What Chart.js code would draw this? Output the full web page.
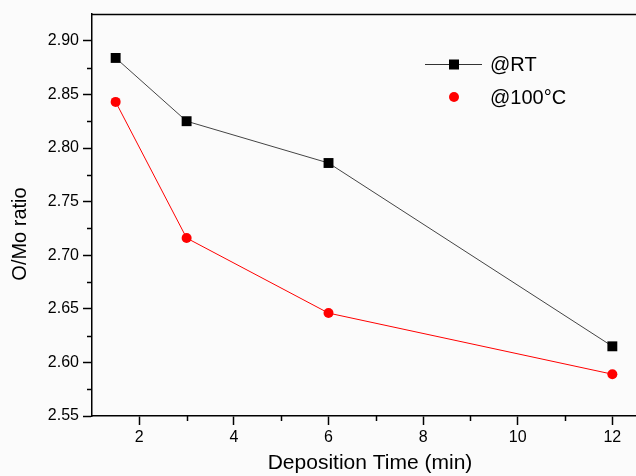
<!DOCTYPE html>
<html>
<head>
<meta charset="utf-8">
<script src="https://cdn.jsdelivr.net/npm/chart.js@4.4.1/dist/chart.umd.min.js"></script>
<style>
  html, body { margin: 0; padding: 0; background: #fbfbfb; overflow: hidden; }
  #wrap { width: 636px; height: 476px; position: relative; }
</style>
</head>
<body>
<div id="wrap"><canvas id="c" width="636" height="476"></canvas></div>
<script>
const depositionTimes = [1.5, 3, 6, 12];
const ratioRT = [2.884, 2.825, 2.786, 2.615];
const ratio100C = [2.843, 2.716, 2.646, 2.589];
const seriesLabels = ['@RT', '@100\u00B0C'];
const xTickValues = [2, 4, 6, 8, 10, 12];
const yTickValues = [2.55, 2.60, 2.65, 2.70, 2.75, 2.80, 2.85, 2.90];
const xTitle = 'Deposition Time (min)';
const yTitle = 'O/Mo ratio';

const FONT = "'Liberation Sans', Arial, sans-serif";

const toPoints = (xs, ys) => xs.map((x, i) => ({ x, y: ys[i] }));

const decorations = {
  id: 'decorations',
  afterDraw(chart) {
    const ctx = chart.ctx;
    const xs = chart.scales.x, ys = chart.scales.y;
    const area = chart.chartArea;
    ctx.save();
    ctx.strokeStyle = '#000';
    ctx.lineWidth = 1.5;
    const yMinor = [];
    for (let i = 0; i < yTickValues.length - 1; i++) yMinor.push((yTickValues[i] + yTickValues[i + 1]) / 2);
    yMinor.forEach(v => {
      const p = Math.round(ys.getPixelForValue(v)) + 0.5;
      ctx.beginPath(); ctx.moveTo(area.left - 5, p); ctx.lineTo(area.left, p); ctx.stroke();
    });
    for (let v = 3; v <= xs.max; v += 2) {
      const p = Math.round(xs.getPixelForValue(v)) + 0.5;
      ctx.beginPath(); ctx.moveTo(p, area.bottom); ctx.lineTo(p, area.bottom + 5); ctx.stroke();
    }
    ctx.beginPath();
    ctx.moveTo(area.left, area.top + 0.5);
    ctx.lineTo(chart.width, area.top + 0.5);
    ctx.stroke();

    ctx.fillStyle = '#000';
    ctx.textAlign = 'center';
    ctx.textBaseline = 'middle';
    ctx.font = '21px ' + FONT;
    ctx.fillText(xTitle, 370, area.bottom + 47);
    ctx.save();
    ctx.translate(20, area.top + 220);
    ctx.rotate(-Math.PI / 2);
    ctx.font = '20px ' + FONT;
    ctx.fillText(yTitle, 0, 0);
    ctx.restore();
    ctx.restore();
  }
};

const customLegend = {
  id: 'customLegend',
  afterDraw(chart) {
    const ctx = chart.ctx;
    const area = chart.chartArea;
    const x0 = area.left + 333, y0 = area.top + 50, dy = 33;
    ctx.save();
    ctx.font = '20px ' + FONT;
    ctx.textBaseline = 'middle';
    ctx.fillStyle = '#000';
    ctx.strokeStyle = '#333';
    ctx.lineWidth = 1;
    ctx.beginPath(); ctx.moveTo(x0, y0 + 0.5); ctx.lineTo(x0 + 57, y0 + 0.5); ctx.stroke();
    ctx.fillStyle = '#000';
    ctx.fillRect(x0 + 24, y0 - 4.5, 10, 10);
    ctx.fillText(chart.data.datasets[0].label, x0 + 65, y0 + 1);
    ctx.fillStyle = '#ff0000';
    ctx.beginPath(); ctx.arc(x0 + 29, y0 + dy, 5, 0, Math.PI * 2); ctx.fill();
    ctx.fillStyle = '#000';
    ctx.fillText(chart.data.datasets[1].label, x0 + 65, y0 + dy + 1);
    ctx.restore();
  }
};

new Chart(document.getElementById('c'), {
  type: 'scatter',
  data: {
    datasets: [
      {
        label: seriesLabels[0],
        data: toPoints(depositionTimes, ratioRT),
        showLine: true,
        clip: false,
        borderColor: '#444',
        borderWidth: 1,
        pointStyle: 'rect',
        pointRadius: 7,
        pointBackgroundColor: '#000',
        pointBorderColor: '#000',
        pointBorderWidth: 0
      },
      {
        label: seriesLabels[1],
        data: toPoints(depositionTimes, ratio100C),
        showLine: true,
        clip: false,
        borderColor: '#ff0000',
        borderWidth: 1,
        pointStyle: 'circle',
        pointRadius: 5,
        pointBackgroundColor: '#ff0000',
        pointBorderColor: '#ff0000',
        pointBorderWidth: 0
      }
    ]
  },
  options: {
    responsive: false,
    animation: false,
    layout: { autoPadding: false, padding: { top: 14, right: 0, left: 0, bottom: 0 } },
    plugins: { legend: { display: false }, tooltip: { enabled: false } },
    scales: {
      x: {
        type: 'linear',
        min: 1,
        max: 12.5,
        afterBuildTicks(scale) { scale.ticks = xTickValues.map(v => ({ value: v })); },
        afterFit(scale) { scale.height = 60; scale.paddingRight = 0; },
        ticks: { color: '#000', font: { family: FONT, size: 16 }, padding: 3, callback: v => String(v) },
        grid: { drawOnChartArea: false, tickLength: 9, color: '#000', tickWidth: 1.5 },
        border: { color: '#000', width: 1.5 },
        title: { display: false }
      },
      y: {
        type: 'linear',
        min: 2.55,
        max: 2.925,
        afterBuildTicks(scale) { scale.ticks = yTickValues.map(v => ({ value: v })); },
        afterFit(scale) { scale.width = 92; },
        ticks: { color: '#000', font: { family: FONT, size: 16 }, padding: 4, callback: v => v.toFixed(2) },
        grid: { drawOnChartArea: false, tickLength: 9, color: '#000', tickWidth: 1.5 },
        border: { color: '#000', width: 1.5 },
        title: { display: false }
      }
    }
  },
  plugins: [decorations, customLegend]
});
</script>
</body>
</html>
